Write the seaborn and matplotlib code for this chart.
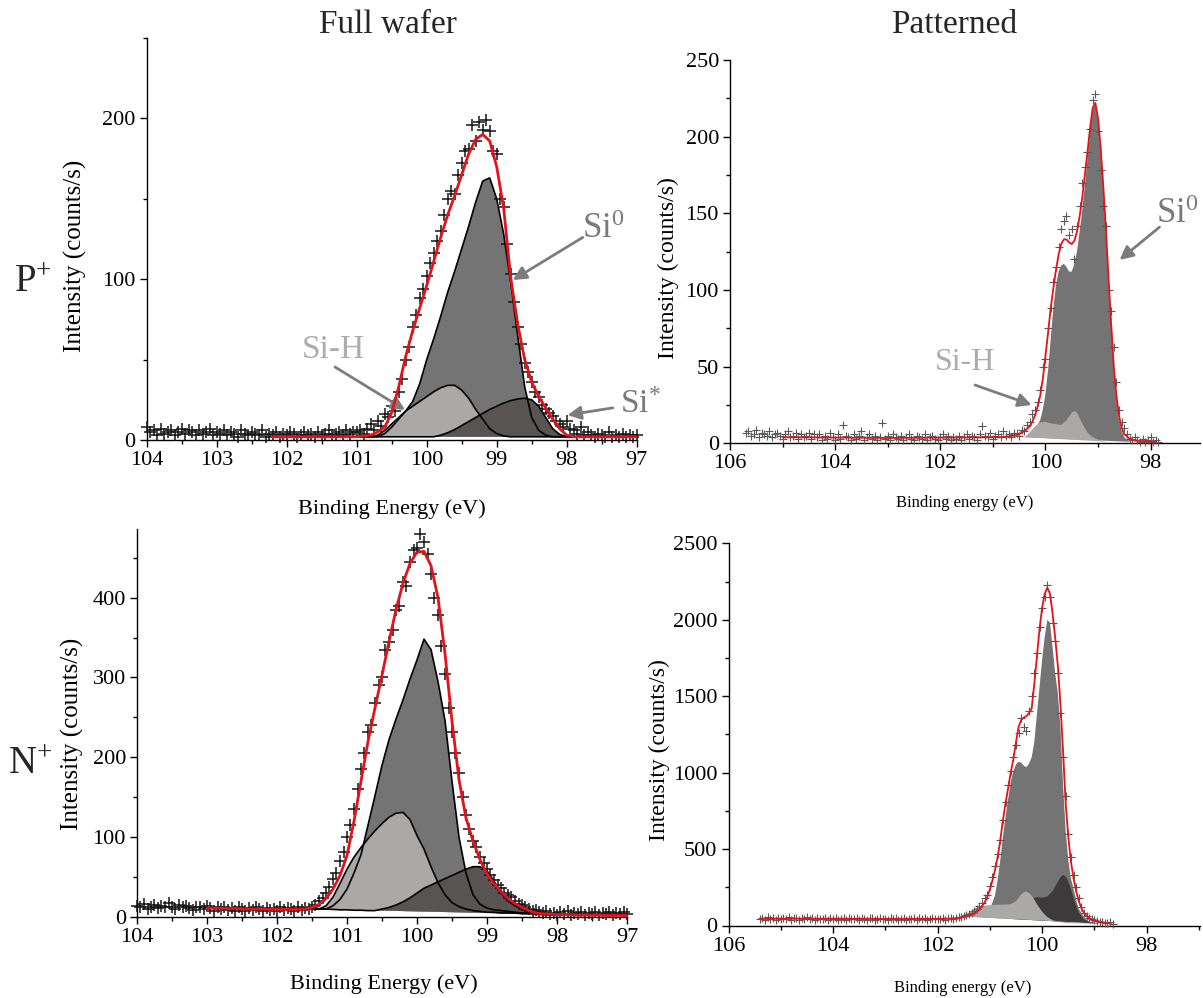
import numpy as np
import pandas as pd
import matplotlib
matplotlib.use("Agg")
import matplotlib.pyplot as plt
import seaborn as sns
from matplotlib.ticker import MultipleLocator

# ---------------------------------------------------------------
# Full wafer, P+ (top left)  -- energies in eV, counts/s
# ---------------------------------------------------------------
TL_SCAN_BKG = [8, 5, 6, 3, 7, 4, 5, 6, 3, 5, 7, 4, 6, 5, 3, 6, 4, 5, 7, 3,
               5, 4, 6, 3, 5, 4, 2, 6, 4, 3, 5, 4, 3, 6, 2, 4, 3, 5, 2, 4,
               3, 5, 4, 2, 3, 5, 3, 4, 2, 5, 3, 4, 6, 3, 4, 5, 3, 6, 4, 5]   # 104.00 -> 101.05
TL_SCAN_PEAK = [5, 6, 4, 7, 10, 6, 12, 9, 16, 14,
                21, 18, 30, 38, 50, 58, 70, 78, 88, 94,
                102, 110, 116, 124, 130, 140, 150, 155, 153, 165,
                172, 180, 181, 196, 186, 198, 193, 199, 192, 180,
                178, 150, 145, 122, 103, 86, 70, 60, 48, 42,
                36, 30, 27, 22, 19, 17, 15, 12, 10, 8,
                12, 7, 6, 4, 8, 3, 5, 3, 2, 4,
                3, 2, 5, 2, 3, 2, 4, 2, 3, 2, 3]                              # 101.00 -> 97.00
TL_FIT = [2, 2, 2, 2, 2, 2, 2, 2, 2, 2, 2, 2, 2,
          2.5, 3, 5, 8, 17, 33, 52, 68, 82, 96,
          111, 126, 140, 152, 165, 178, 187, 190, 186, 170,
          144, 101, 72, 50, 36, 27, 20, 13, 7, 3,
          2, 2, 2, 2, 2, 2, 2, 2, 2, 2]                                      # 102.2 -> 97.0
TL_SI0 = [2, 2, 2, 2, 4, 8, 13, 18, 24, 35,
          50, 63, 77, 92, 105, 119, 133, 148, 161, 163,
          150, 128, 98, 65, 33, 14, 6, 3, 2, 2,
          2, 2, 2, 2, 2]                                                     # 101.0 -> 97.6
TL_SIH = [2, 2, 2, 3, 6, 10, 14, 18, 21, 24,
          27, 30, 32.5, 34, 34, 31, 26, 19, 13, 7,
          4, 2.5, 2, 2, 2, 2, 2, 2, 2, 2,
          2, 2, 2, 2, 2]
TL_SISTAR = [2, 2, 2, 2, 2, 2, 2, 2, 2, 2,
             2, 2, 3, 4.5, 6.5, 9, 11.5, 14, 16.5, 19,
             21, 23, 24.5, 25.5, 26, 25, 21, 14, 7, 3.5,
             2, 2, 2, 2, 2]

# ---------------------------------------------------------------
# Full wafer, N+ (bottom left)
# ---------------------------------------------------------------
BL_SCAN_BKG = [14, 12, 16, 10, 13, 15, 11, 14, 12, 17, 13, 10, 15, 12, 14, 11, 9, 13, 12, 10,
               14, 11, 8, 12, 10, 13, 9, 11, 7, 12, 10, 8, 11, 9, 12, 10, 7, 11, 9, 10,
               8, 12, 9, 11, 10, 8, 12, 9, 11, 10]                           # 104.00 -> 101.55
BL_SCAN_PEAK = [13, 15, 20, 24, 30, 38, 48, 55, 70, 82,
                100, 115, 135, 160, 185, 205, 232, 240, 268, 290,
                300, 335, 345, 360, 385, 390, 420, 415, 445, 460,
                462, 480, 470, 455, 430, 400, 378, 340, 305, 262,
                232, 205, 180, 150, 128, 110, 95, 88, 75, 68,
                60, 52, 46, 40, 36, 30, 27, 25, 20, 16,
                15, 12, 10, 8, 9, 6, 5, 7, 4, 5,
                3, 6, 4, 7, 3, 5, 4, 6, 3, 5,
                4, 6, 3, 5, 4, 6, 3, 5, 4, 6, 4]                             # 101.50 -> 97.00
BL_FIT = [11, 11, 11, 10.5, 10.5, 10, 10, 10, 10, 9.5, 9.5, 9.5, 9.5, 9.5,
          10, 12, 16, 23, 35, 52, 77, 120, 170, 220,
          262, 303, 345, 385, 418, 443, 457, 458, 440, 400,
          330, 245, 172, 124, 95, 72, 54, 42, 32, 23,
          17, 12, 8, 5, 4, 3.5, 3,
          3, 3, 2.5, 2.5, 2.5, 2.5, 2, 2, 2, 2]                               # 103.0 -> 97.0
BL_SI0 = [10, 10, 10, 14, 22, 35, 55, 78, 115, 152,
          190, 222, 248, 272, 298, 322, 348, 335, 295, 246,
          170, 100, 55, 28, 16, 11, 9, 8, 7, 6,
          5, 5, 4, 4, 3, 3]                                                  # 101.5 -> 98.0
BL_SIH = [10, 10, 14, 25, 42, 60, 75, 87, 98, 108,
          117, 125, 130, 131, 122, 102, 85, 63, 43, 28,
          18, 13, 10, 8, 7, 6, 6, 5, 5, 5,
          4, 4, 4, 3, 3, 3]
BL_SISTAR = [10, 10, 10, 9.5, 9, 9, 8.5, 8.5, 8, 8,
             10, 12, 15, 19, 24, 30, 36, 40, 44, 48,
             52, 56, 60, 63, 63, 58, 45, 30, 20, 14,
             10, 6, 4, 3, 3, 3]

# ---------------------------------------------------------------
# Patterned, P+ (top right)
# ---------------------------------------------------------------
TR_SCAN_BKG = [7, 8, 5, 6, 9, 4, 7, 6, 5, 8, 4, 6, 7, 5, 3, 6, 8, 4, 5, 7,
               3, 6, 4, 5, 7, 3, 6, 4, 6, 2, 5, 3, 7, 4, 2, 6, 3, 12, 5, 4,
               2, 6, 3, 5, 8, 2, 4, 6, 3, 5, 2, 4, 13, 3, 5, 2, 6, 4, 3, 5,
               2, 4, 6, 3, 2, 5, 4, 3, 6, 2, 4, 5, 3, 2, 4, 6, 3, 5, 2, 4,
               3, 5, 2, 4, 6, 3, 5, 4, 2, 6, 11, 5, 4, 7, 3, 5, 6, 4, 8, 5,
               6, 4, 7]                                                      # 105.70 -> 100.60
TR_SCAN_PEAK = [7, 5, 9, 8, 12, 14, 19, 22, 27, 35,
                50, 55, 75, 88, 105, 115, 128, 140, 145, 148,
                136, 140, 120, 142, 155, 170, 180, 190, 205, 224,
                228, 204, 178, 155, 142, 100, 86, 63, 40, 22,
                14, 10, 6, 3, 2, 4, 2, 1, 3, 1,
                2, 4, 1, 2, 1]                                               # 100.55 -> 97.85
TR_FIT_E = [105.0, 103.0, 100.8, 100.7, 100.6, 100.5, 100.4, 100.3, 100.25, 100.2,
            100.15, 100.1, 100.05, 100.0, 99.95, 99.9, 99.85, 99.8, 99.75, 99.7,
            99.65, 99.6, 99.55, 99.5, 99.45, 99.4, 99.35, 99.3, 99.25, 99.2,
            99.15, 99.1, 99.05, 99.0, 98.95, 98.9, 98.85, 98.8, 98.75, 98.7,
            98.65, 98.6, 98.55, 98.5, 98.4, 98.3, 98.2, 97.9]
TR_FIT = [4, 3.5, 4, 4.5, 5, 6, 8, 11, 14, 18,
          24, 31, 42, 57, 72, 88, 101, 113, 123, 130,
          133, 133, 131, 130, 132, 138, 148, 160, 175, 190,
          206, 219, 222, 212, 193, 168, 140, 108, 78, 50,
          31, 18, 10, 6, 3, 2, 1.5, 1]
TR_SI0_E = [100.4, 100.3, 100.2, 100.15, 100.1, 100.05, 100.0, 99.95, 99.9, 99.85,
            99.8, 99.75, 99.7, 99.65, 99.6, 99.55, 99.5, 99.45, 99.4, 99.35,
            99.3, 99.25, 99.2, 99.15, 99.1, 99.05, 99.0, 98.95, 98.9, 98.85,
            98.8, 98.75, 98.7, 98.65, 98.6, 98.55, 98.5, 98.4]
TR_SI0 = [4, 6, 9, 12, 15, 22, 32, 48, 68, 88,
          103, 112, 116, 117, 115, 112, 112, 117, 125, 138,
          152, 168, 185, 203, 218, 221, 210, 190, 165, 137,
          105, 75, 47, 28, 15, 8, 4, 1]
TR_SIH_E = [100.4, 100.3, 100.2, 100.1, 100.0, 99.9, 99.8, 99.7, 99.6, 99.5,
            99.45, 99.4, 99.3, 99.2, 99.1, 99.0, 98.9, 98.8]
TR_SIH = [4, 7, 11, 13.5, 14, 13, 12.5, 12, 15, 20,
          21, 20, 13, 7, 4, 2.5, 1.5, 1]

# ---------------------------------------------------------------
# Patterned, N+ (bottom right)
# ---------------------------------------------------------------
BR_SCAN_BKG = [45, 50, 38, 55, 42, 48, 36, 52, 44, 47,
               40, 53, 39, 46, 50, 37, 48, 43, 55, 41,
               46, 38, 52, 44, 40, 49, 36, 47, 42, 51,
               39, 45, 48, 35, 50, 43, 41, 47, 38, 52,
               44, 39, 46, 50, 37, 43, 48, 40, 45, 36,
               51, 42, 47, 39, 44, 49, 37, 45, 41, 48,
               38, 46, 43, 50, 36, 44, 47, 40, 45, 42,
               48, 39, 46, 52, 43, 50, 55]                                   # 105.40 -> 101.60
BR_SCAN_PEAK = [58, 62, 70, 78, 85, 95, 110, 130, 150, 180,
                200, 260, 320, 390, 470, 560, 690, 810, 920, 1010,
                1100, 1180, 1260, 1360, 1300, 1270, 1400, 1500, 1650, 1780,
                1950, 2080, 2150, 2230, 2150, 1980, 1860, 1650, 1390, 1100,
                850, 600, 450, 330, 250, 180, 120, 85, 60, 50,
                40, 35, 30, 25, 22, 18, 15, 20, 12]                          # 101.55 -> 98.65
BR_FIT_E = [105.4, 103.0, 101.8, 101.6, 101.5, 101.4, 101.3, 101.2, 101.1, 101.05,
            101.0, 100.95, 100.9, 100.85, 100.8, 100.75, 100.7, 100.65, 100.6, 100.55,
            100.5, 100.45, 100.4, 100.35, 100.3, 100.25, 100.2, 100.15, 100.1, 100.05,
            100.0, 99.95, 99.9, 99.85, 99.8, 99.75, 99.7, 99.65, 99.6, 99.55,
            99.5, 99.45, 99.4, 99.35, 99.3, 99.25, 99.2, 99.1, 99.0, 98.9,
            98.8, 98.7]
BR_FIT = [45, 43, 44, 48, 57, 65, 80, 105, 150, 185,
          235, 295, 365, 450, 560, 690, 800, 900, 1000, 1090,
          1200, 1300, 1345, 1360, 1370, 1390, 1420, 1580, 1760, 1940,
          2080, 2170, 2210, 2170, 2040, 1880, 1700, 1450, 1140, 800,
          580, 420, 310, 225, 160, 115, 80, 48, 32, 25,
          18, 14]
BR_SI0_E = [101.55, 101.2, 101.1, 101.0, 100.95, 100.9, 100.85, 100.8, 100.75, 100.7,
            100.65, 100.6, 100.55, 100.5, 100.45, 100.4, 100.35, 100.3, 100.25, 100.2,
            100.15, 100.1, 100.05, 100.0, 99.95, 99.9, 99.85, 99.8, 99.75, 99.7,
            99.65, 99.6, 99.55, 99.5, 99.45, 99.4, 99.35, 99.3, 99.2, 99.1, 98.9]
BR_SI0 = [60, 70, 85, 110, 150, 200, 300, 430, 580, 710,
          830, 940, 1010, 1055, 1072, 1065, 1045, 1035, 1060, 1100,
          1200, 1380, 1560, 1740, 1890, 2000, 1980, 1820, 1650, 1520,
          1300, 920, 620, 430, 310, 240, 170, 110, 55, 25, 12]
BR_SISTAR_E = [101.55, 100.6, 100.5, 100.4, 100.3, 100.2, 100.1, 100.0, 99.9, 99.8,
               99.75, 99.7, 99.65, 99.6, 99.55, 99.5, 99.45, 99.4, 99.35, 99.3,
               99.2, 99.1, 98.9]
BR_SISTAR = [60, 43, 70, 110, 150, 178, 185, 182, 190, 225,
             255, 285, 315, 330, 320, 290, 240, 185, 130, 85,
             40, 22, 12]
BR_SIH_E = [101.55, 101.4, 101.3, 101.2, 101.1, 101.0, 100.9, 100.8, 100.7, 100.6,
            100.5, 100.45, 100.4, 100.35, 100.3, 100.25, 100.2, 100.15, 100.1, 100.0,
            99.9, 99.8, 99.7, 99.6, 99.5, 98.9]
BR_SIH = [60, 85, 110, 123, 130, 133, 135, 136, 137, 140,
          160, 180, 203, 218, 222, 212, 195, 170, 140, 90,
          55, 35, 25, 18, 15, 12]

# colours
RED = '#e3121b'
FILL_SI0 = '#747474'
FILL_SIH = '#aba9a7'
FILL_SISTAR = '#585453'
FILL_DARKEST = '#3c3a3a'
ARROW_GREY = '#7c7c7c'
LABEL_GREY = '#7a7a7a'
LABEL_LIGHT = '#acacac'

sns.set_theme(style='ticks')
plt.rcParams['font.family'] = ['Liberation Serif', 'DejaVu Serif']
plt.rcParams['mathtext.fontset'] = 'custom'
plt.rcParams['mathtext.rm'] = 'Liberation Serif'
plt.rcParams['mathtext.it'] = 'Liberation Serif:italic'

W, H = 1203, 998
fig = plt.figure(figsize=(W / 100, H / 100), dpi=100)


def px_axes(left, top, right, bottom):
    return fig.add_axes([left / W, 1 - bottom / H, (right - left) / W, (bottom - top) / H])


def scan(start, stop, counts):
    return pd.DataFrame({'energy': np.linspace(start, stop, len(counts)), 'counts': counts})


def curve(energy, counts):
    return pd.DataFrame({'energy': energy, 'counts': counts})


def grid(start, stop, counts):
    return np.linspace(start, stop, len(counts))


def draw_scan(ax, frames, color, size, lw):
    for df in frames:
        sns.scatterplot(data=df, x='energy', y='counts', ax=ax, marker='+', s=size,
                        color=color, linewidth=lw, zorder=3, clip_on=False)


def draw_line(ax, df, color, lw, z):
    sns.lineplot(data=df, x='energy', y='counts', ax=ax, color=color, lw=lw,
                 estimator=None, sort=False, zorder=z)


def style_axes(ax, xlim, ylim, xmaj, xmin, ymaj, ymin, xlabel, xlsize, xl_pos, yl_pos, ylsize):
    ax.set_xlim(*xlim)
    ax.set_ylim(*ylim)
    ax.xaxis.set_major_locator(MultipleLocator(xmaj))
    ax.xaxis.set_minor_locator(MultipleLocator(xmin))
    ax.yaxis.set_major_locator(MultipleLocator(ymaj))
    ax.yaxis.set_minor_locator(MultipleLocator(ymin))
    sns.despine(ax=ax)
    for s in ('left', 'bottom'):
        ax.spines[s].set_linewidth(1.0)
        ax.spines[s].set_color('black')
    ax.tick_params(which='major', direction='out', length=5, width=1, labelsize=16,
                   pad=3, color='black', labelcolor='black')
    ax.tick_params(which='minor', direction='out', length=3, width=1, color='black')
    ax.set_xlabel(xlabel, fontsize=xlsize, color='black')
    ax.xaxis.set_label_coords(*xl_pos)
    ax.set_ylabel('Intensity (counts/s)', fontsize=ylsize, color='black')
    ax.yaxis.set_label_coords(*yl_pos)


def arrow(ax, start, tip):
    ax.annotate('', xy=tip, xytext=start,
                arrowprops=dict(arrowstyle='-|>', color=ARROW_GREY, lw=2, mutation_scale=20,
                                shrinkA=0, shrinkB=0))


# ---------------- top left ----------------
ax = px_axes(146.7, 38, 636.7, 440)
e_tl = grid(101.0, 97.6, TL_SI0)
for vals, col in ((TL_SI0, FILL_SI0), (TL_SIH, FILL_SIH), (TL_SISTAR, FILL_SISTAR)):
    ax.fill(e_tl, vals, color=col, lw=0, zorder=1)
for vals in (TL_SI0, TL_SIH, TL_SISTAR):
    draw_line(ax, curve(e_tl, vals), 'black', 1.2, 2)
draw_scan(ax, [scan(104.0, 101.05, TL_SCAN_BKG), scan(101.0, 97.0, TL_SCAN_PEAK)], '#151515', 85, 1.1)
draw_line(ax, curve(grid(102.2, 97.0, TL_FIT), TL_FIT), RED, 2.0, 4)
style_axes(ax, (104, 97), (0, 250), 1, 0.5, 100, 50, 'Binding Energy (eV)', 16,
           (0.5, -0.147), (-0.122, 0.458), 18)
ax.text(97.48, 131, r'$\mathregular{Si^{0}}$', fontsize=25, color=LABEL_GREY, ha='center', va='center')
arrow(ax, (97.77, 126), (98.77, 99.5))
ax.text(101.34, 56, 'Si-H', fontsize=24, color=LABEL_LIGHT, ha='center', va='center')
arrow(ax, (101.31, 45.4), (100.31, 18.7))
ax.text(97.24, 21.8, r'$\mathregular{Si^{*}}$', fontsize=24, color=LABEL_GREY, ha='left', va='center')
arrow(ax, (97.34, 20), (97.99, 15.5))

# ---------------- bottom left ----------------
ax = px_axes(137, 529, 627, 917)
e_bl = grid(101.5, 98.0, BL_SI0)
for vals, col in ((BL_SI0, FILL_SI0), (BL_SIH, FILL_SIH), (BL_SISTAR, FILL_SISTAR)):
    ax.fill(e_bl, vals, color=col, lw=0, zorder=1)
for vals in (BL_SI0, BL_SIH, BL_SISTAR):
    draw_line(ax, curve(e_bl, vals), 'black', 1.2, 2)
draw_scan(ax, [scan(104.0, 101.55, BL_SCAN_BKG), scan(101.5, 97.0, BL_SCAN_PEAK)], '#151515', 85, 1.1)
draw_line(ax, curve(grid(103.0, 97.0, BL_FIT), BL_FIT), RED, 2.0, 4)
style_axes(ax, (104, 97), (0, 486), 1, 0.5, 100, 50, 'Binding Energy (eV)', 16,
           (0.504, -0.147), (-0.108, 0.472), 18)

# ---------------- top right ----------------
ax = px_axes(730, 60, 1200, 443.3)
ax.fill(TR_SI0_E, TR_SI0, color=FILL_SI0, lw=0, zorder=1)
ax.fill(TR_SIH_E, TR_SIH, color=FILL_SIH, lw=0, zorder=1)
draw_scan(ax, [scan(105.7, 100.6, TR_SCAN_BKG), scan(100.55, 97.85, TR_SCAN_PEAK)], '#5a5a5a', 34, 0.8)
draw_line(ax, curve(TR_FIT_E, TR_FIT), RED, 1.3, 4)
style_axes(ax, (106, 97.06), (0, 250), 2, 1, 50, 25, 'Binding energy (eV)', 12,
           (0.5, -0.135), (-0.1085, 0.456), 17)
ax.text(97.5, 149, r'$\mathregular{Si^{0}}$', fontsize=25, color=LABEL_GREY, ha='center', va='center')
arrow(ax, (97.83, 141), (98.59, 119.6))
ax.text(101.53, 52.4, 'Si-H', fontsize=23, color=LABEL_LIGHT, ha='center', va='center')
arrow(ax, (101.34, 38), (100.26, 25))

# ---------------- bottom right ----------------
ax = px_axes(728.5, 543.3, 1200, 925.5)
ax.fill(BR_SI0_E, BR_SI0, color=FILL_SI0, lw=0, zorder=1)
ax.fill(BR_SISTAR_E, BR_SISTAR, color=FILL_DARKEST, lw=0, zorder=1)
ax.fill(BR_SIH_E, BR_SIH, color=FILL_SIH, lw=0, zorder=1)
draw_scan(ax, [scan(105.4, 101.6, BR_SCAN_BKG), scan(101.55, 98.65, BR_SCAN_PEAK)], '#5a5a5a', 34, 0.8)
draw_line(ax, curve(BR_FIT_E, BR_FIT), RED, 1.3, 4)
style_axes(ax, (106, 96.98), (0, 2500), 2, 1, 500, 250, 'Binding energy (eV)', 12,
           (0.497, -0.143), (-0.124, 0.459), 17)

# ---------------- figure labels ----------------
fig.text(388 / W, 1 - 25 / H, 'Full wafer', fontsize=24, ha='center', va='center')
fig.text(954 / W, 1 - 25 / H, 'Patterned', fontsize=24, ha='center', va='center')
fig.text(33 / W, 1 - 283 / H, r'$\mathregular{P^{+}}$', fontsize=28, ha='center', va='center')
fig.text(30 / W, 1 - 765 / H, r'$\mathregular{N^{+}}$', fontsize=28, ha='center', va='center')

fig.savefig('out.png', dpi=100, facecolor='white')
